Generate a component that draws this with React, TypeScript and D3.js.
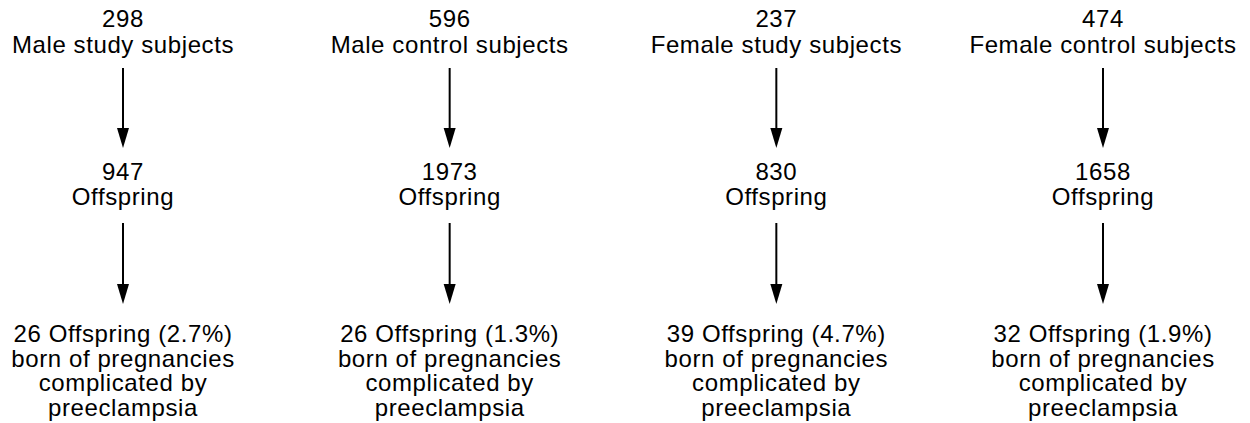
import React from "react";
import * as d3 from "d3";

// study groups, left to right
const groups = [
  "Male study subjects",
  "Male control subjects",
  "Female study subjects",
  "Female control subjects",
];
const subjects = [298, 596, 237, 474];
const offspring = [947, 1973, 830, 1658];
const preeclampsia = [26, 26, 39, 32];
const percents = ["2.7%", "1.3%", "4.7%", "1.9%"];

const width = 1250;
const height = 423;

export default function App() {
  const ref = React.useRef<SVGSVGElement>(null);

  React.useEffect(() => {
    const svg = d3.select(ref.current);
    svg.selectAll("*").remove();

    const x = d3
      .scalePoint<string>()
      .domain(groups)
      .range([123, 1103]);

    const fontSize = 24;
    const lh = 24.5;

    const rows = groups.map((g, i) => ({
      g,
      top: [String(subjects[i]), g],
      mid: [String(offspring[i]), "Offspring"],
      bot: [
        `${preeclampsia[i]} Offspring (${percents[i]})`,
        "born of pregnancies",
        "complicated by",
        "preeclampsia",
      ],
    }));

    const col = svg
      .append("g")
      .attr("font-family", "'Liberation Sans', Arial, Helvetica, sans-serif")
      .attr("font-size", fontSize)
      .attr("letter-spacing", 0.6)
      .attr("fill", "#000")
      .selectAll("g")
      .data(rows)
      .join("g")
      .attr("transform", (d) => `translate(${x(d.g)},0)`);

    const block = (sel: any, key: "top" | "mid" | "bot", y0: number, step = lh) => {
      sel
        .append("text")
        .attr("text-anchor", "middle")
        .selectAll("tspan")
        .data((d: any) => d[key])
        .join("tspan")
        .attr("x", 0)
        .attr("y", (_: any, j: number) => y0 + j * step)
        .text((t: string) => t);
    };

    block(col, "top", 27, 25.5);
    block(col, "mid", 180);
    block(col, "bot", 342);

    const arrow = (y1: number, y2: number) => {
      col
        .append("line")
        .attr("x1", 0)
        .attr("x2", 0)
        .attr("y1", y1)
        .attr("y2", y2 - 18)
        .attr("stroke", "#000")
        .attr("stroke-width", 2);
      col
        .append("path")
        .attr("d", `M-6,${y2 - 20}L6,${y2 - 20}L0,${y2}Z`)
        .attr("fill", "#000");
    };
    arrow(68, 148);
    arrow(223, 304);
  }, []);

  return (
    <svg
      ref={ref}
      width={width}
      height={height}
      style={{ position: "absolute", left: 0, top: 0, background: "#fff" }}
    ></svg>
  );
}
